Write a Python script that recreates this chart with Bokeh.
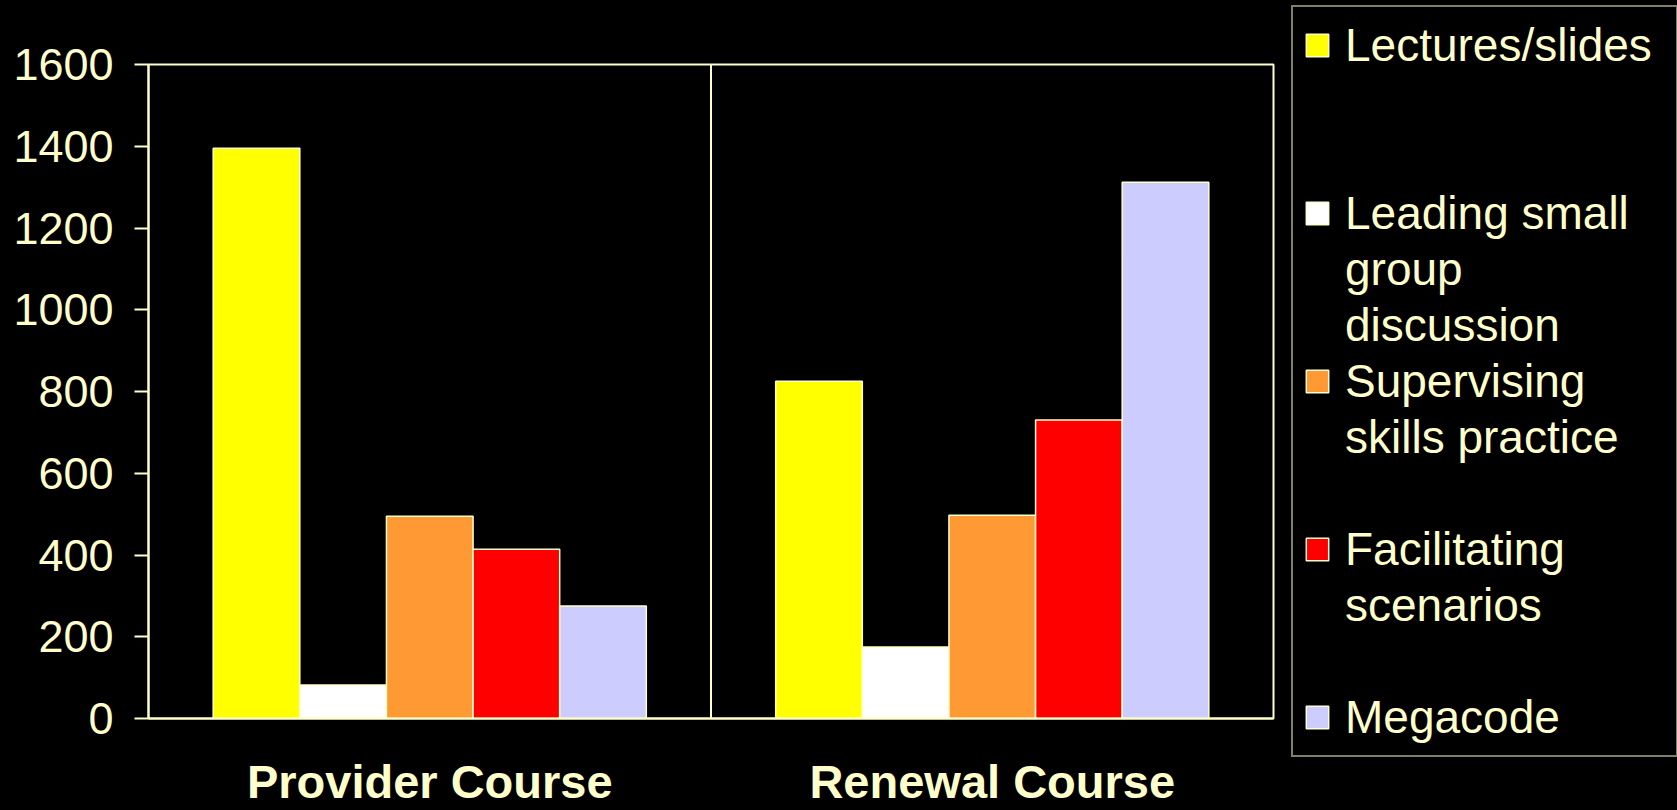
from bokeh.plotting import figure
from bokeh.layouts import row
from bokeh.models import (ColumnDataSource, Range1d, FactorRange, FixedTicker, Legend,
                          LegendItem, Span)
from bokeh.transform import dodge
from bokeh.embed import file_html
from bokeh.resources import INLINE

# ---------------- data ----------------
courses = ["Provider Course", "Renewal Course"]
activities = ["Lectures/slides", "Leading small group discussion",
              "Supervising skills practice", "Facilitating scenarios", "Megacode"]
legend_lines = [["Lectures/slides"],
                ["Leading small", "group", "discussion"],
                ["Supervising", "skills practice"],
                ["Facilitating", "scenarios"],
                ["Megacode"]]
provider_values = [1395, 82, 495, 414, 275]
renewal_values = [825, 175, 497, 730, 1312]
y_ticks = [0, 200, 400, 600, 800, 1000, 1200, 1400, 1600]

# ---------------- style ----------------
CREAM = "#FFFFCC"
colors = ["#FFFF00", "#FFFFFF", "#FF9933", "#FF0000", "#CCCCFF"]
FONT = "Liberation Sans"
bar_w = 0.154
blank_rows_after = [2, 0, 1, 1, 0]

data = {"course": courses}
for i in range(len(activities)):
    data[f"v{i}"] = [provider_values[i], renewal_values[i]]
src = ColumnDataSource(data)

MAIN_W = 1277
p = figure(x_range=courses, y_range=Range1d(0, 1600), width=MAIN_W, height=810,
           output_backend="svg", toolbar_location=None,
           min_border_left=148, min_border_right=4,
           min_border_top=64, min_border_bottom=89)
p.x_range.range_padding = 0
p.background_fill_color = "black"
p.border_fill_color = "black"
p.outline_line_color = CREAM
p.outline_line_width = 2
p.grid.visible = False

try:
    from bokeh.models import GlobalInlineStyleSheet
    p.stylesheets = [GlobalInlineStyleSheet(css="html, body { background-color: #000000; }")]
except Exception:
    pass

# y axis
ya = p.yaxis[0]
ya.ticker = FixedTicker(ticks=y_ticks)
ya.major_label_text_font = FONT
ya.major_label_text_font_size = "45px"
ya.major_label_text_color = CREAM
ya.axis_line_color = CREAM
ya.axis_line_width = 2
ya.major_tick_line_color = CREAM
ya.major_tick_line_width = 2
ya.major_tick_out = 14
ya.major_tick_in = 0
ya.minor_tick_line_color = None
ya.major_label_standoff = 21

# x axis: course names
xa = p.xaxis[0]
xa.axis_line_color = CREAM
xa.axis_line_width = 2
xa.major_tick_line_color = None
xa.major_tick_out = 0
xa.major_tick_in = 0
xa.minor_tick_line_color = None
xa.major_label_text_font = FONT
xa.major_label_text_font_style = "bold"
xa.major_label_text_font_size = "47px"
xa.major_label_text_color = CREAM
xa.major_label_standoff = 36

n = len(activities)
for i in range(n):
    p.vbar(x=dodge("course", (i - (n - 1) / 2) * bar_w, range=p.x_range),
           top=f"v{i}", width=bar_w, source=src,
           fill_color=colors[i], line_color=CREAM, line_width=1.5)

# divider between the two course panels
p.add_layout(Span(location=1, dimension="height", line_color=CREAM, line_width=2))

# ---------------- legend panel ----------------
# key renderers share the data; their x factors are not in this panel's range,
# so nothing is drawn in the panel and only the legend swatches are seen
q = figure(width=1677 - MAIN_W, height=810,
           x_range=FactorRange(factors=activities), y_range=Range1d(10000, 20000),
           output_backend="svg", toolbar_location=None,
           x_axis_location=None, y_axis_location=None,
           min_border_left=0, min_border_right=0, min_border_top=0, min_border_bottom=0)
q.grid.visible = False
q.outline_line_color = None
q.background_fill_color = "black"
q.border_fill_color = "black"

for fig in (p, q):
    try:
        fig.frame_align = False
    except Exception:
        pass

key_renderers = []
for i in range(n):
    kr = q.vbar(x="course", top=f"v{i}", width=bar_w, source=src,
                fill_color=colors[i], line_color=CREAM, line_width=1.5)
    key_renderers.append(kr)

items = []
for i in range(n):
    for k, line in enumerate(legend_lines[i]):
        items.append(LegendItem(label=line, renderers=[key_renderers[i]] if k == 0 else []))
    for _ in range(blank_rows_after[i]):
        items.append(LegendItem(label="", renderers=[]))

legend = Legend(items=items, location=(14, 53), orientation="vertical",
                padding=10, spacing=0, margin=0,
                glyph_width=28, glyph_height=28, label_standoff=14,
                label_width=321, label_height=56,
                label_text_font=FONT, label_text_font_size="46px",
                label_text_color=CREAM,
                background_fill_color="black", background_fill_alpha=1,
                border_line_color=CREAM, border_line_width=2)
q.add_layout(legend)

layout = row(p, q)
open("out.html", "w").write(file_html(layout, INLINE))
